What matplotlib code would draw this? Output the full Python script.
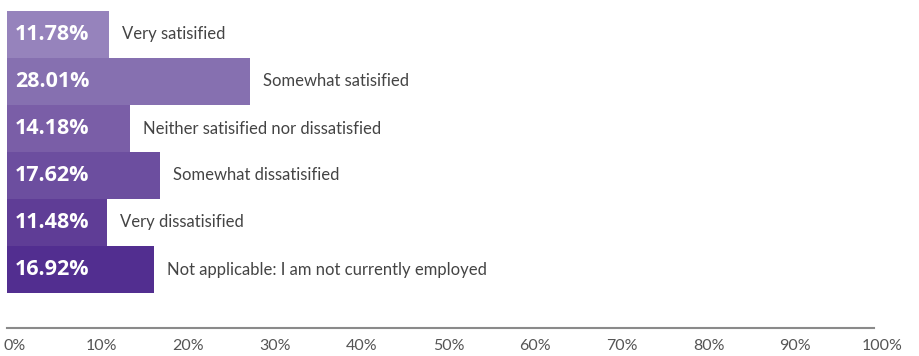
import matplotlib.pyplot as plt
from matplotlib.transforms import offset_copy, ScaledTranslation

labels = ['Very satisified', 'Somewhat satisified', 'Neither satisified nor dissatisfied',
          'Somewhat dissatisified', 'Very dissatisified',
          'Not applicable: I am not currently employed']
values = [11.78, 28.01, 14.18, 17.62, 11.48, 16.92]
colors = ['#9683bc', '#8670b0', '#7a5ea7', '#6c4e9f', '#5f3d96', '#522e90']
ticks = list(range(0, 101, 10))

plt.rcParams['font.family'] = ['Lato', 'DejaVu Sans']

W, H = 919, 356
fig = plt.figure(figsize=(W / 100, H / 100), dpi=100)
ax = fig.add_axes([7 / W, (H - 328) / H, (874 - 7) / W, (328 - 11) / H])

pos = list(range(len(values)))
ax.barh(pos, values, height=1.0, color=colors, left=0)
ax.set_xlim(0, 100)
ax.set_ylim(5.5 + 35 / 47, -0.5)

for y, v, lab in zip(pos, values, labels):
    ax.text(v, y, lab, va='center', ha='left', fontsize=12, color='#444444',
            transform=offset_copy(ax.transData, fig=fig, x=13, y=0, units='dots'))
    ax.text(0, y, '{:.2f}%'.format(v), va='center', ha='left', fontsize=15.5,
            fontweight='bold', color='white', family=['Open Sans', 'DejaVu Sans'],
            transform=offset_copy(ax.transData, fig=fig, x=8, y=0, units='dots'))

for s in ['top', 'right', 'left']:
    ax.spines[s].set_visible(False)
ax.spines['bottom'].set_color('#8a8a8a')
ax.spines['bottom'].set_linewidth(1.5)
ax.set_yticks([])
ax.set_xticks(ticks)
ax.set_xticklabels(['{}%'.format(t) for t in ticks])
ax.tick_params(axis='x', length=0, pad=8, labelsize=11.5, labelcolor='#555555')
shift = ScaledTranslation(8 / 100, 0, fig.dpi_scale_trans)
for t in ax.get_xticklabels():
    t.set_transform(t.get_transform() + shift)
ax.set_xticks([0, 100], minor=True)
ax.tick_params(axis='x', which='minor', length=4, direction='inout', color='#8a8a8a', width=1)

fig.savefig('out.png', dpi=100)
